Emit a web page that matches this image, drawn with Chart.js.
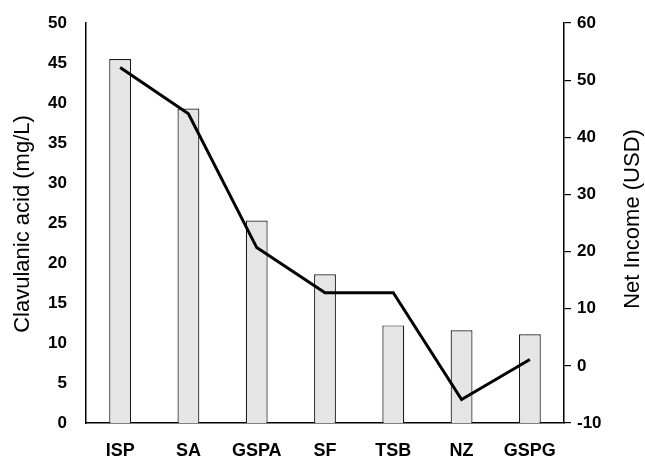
<!DOCTYPE html>
<html><head><meta charset="utf-8">
<script src="https://cdn.jsdelivr.net/npm/chart.js@4/dist/chart.umd.min.js"></script>
<style>html,body{margin:0;padding:0;background:#fff}#wrap{width:645px;height:456px;position:relative}</style>
</head><body><div id="wrap"><canvas id="c"></canvas></div>
<script>
const categories = ['ISP', 'SA', 'GSPA', 'SF', 'TSB', 'NZ', 'GSPG'];
const clavulanicAcid = [45.5, 39.3, 25.3, 18.6, 12.2, 11.6, 11.1];
const netIncome = [52.2, 44.1, 20.7, 12.8, 12.8, -5.9, 1.1];
const leftAxisRange = [0, 50, 5];
const rightAxisRange = [-10, 60, 10];
const leftTitle = 'Clavulanic acid (mg/L)';
const rightTitle = 'Net Income (USD)';

const FONT = '"Liberation Sans", Arial, sans-serif';

const titlePlugin = {
  id: 'sideTitles',
  afterDraw(chart) {
    const ctx = chart.ctx;
    const draw = (text, x, y) => {
      ctx.save();
      ctx.fillStyle = '#000';
      ctx.font = '22px ' + FONT;
      ctx.textAlign = 'center';
      ctx.textBaseline = 'middle';
      ctx.translate(x, y);
      ctx.rotate(-Math.PI / 2);
      ctx.fillText(text, 0, 0);
      ctx.restore();
    };
    draw(leftTitle, 23, 224);
    draw(rightTitle, 633, 219);
  }
};

new Chart(document.getElementById('c'), {
  data: {
    labels: categories,
    datasets: [
      {
        type: 'line',
        data: netIncome,
        yAxisID: 'y1',
        borderColor: '#000',
        borderWidth: 3,
        pointRadius: 0,
        tension: 0,
        fill: false,
        order: 0
      },
      {
        type: 'bar',
        data: clavulanicAcid,
        yAxisID: 'y',
        backgroundColor: '#e5e5e5',
        borderColor: '#1a1a1a',
        borderWidth: 1.2,
        barPercentage: 0.32,
        categoryPercentage: 1,
        order: 1
      }
    ]
  },
  options: {
    responsive: true,
    maintainAspectRatio: false,
    animation: false,
    layout: { padding: { top: 23, left: 0, right: 0, bottom: 0 } },
    plugins: { legend: { display: false }, tooltip: { enabled: false } },
    scales: {
      x: {
        grid: { display: false },
        border: { display: true, color: '#000', width: 1.5 },
        ticks: { color: '#000', font: { family: FONT, size: 18, weight: 'bold' }, padding: 9, maxRotation: 0 },
        afterFit(s) { s.height = 33; }
      },
      y: {
        position: 'left',
        min: leftAxisRange[0], max: leftAxisRange[1],
        grid: { display: false },
        border: { display: true, color: '#000', width: 1.5 },
        ticks: { stepSize: leftAxisRange[2], color: '#000', font: { family: FONT, size: 17, weight: 'bold' }, padding: 11 },
        afterFit(s) { s.width = 86; }
      },
      y1: {
        position: 'right',
        min: rightAxisRange[0], max: rightAxisRange[1],
        grid: { display: true, drawOnChartArea: false, drawTicks: true, tickLength: 7, color: '#000', lineWidth: 1.2 },
        border: { display: true, color: '#000', width: 1.5 },
        ticks: { stepSize: rightAxisRange[2], color: '#000', font: { family: FONT, size: 17, weight: 'bold' }, padding: 6 },
        afterFit(s) { s.width = 81; }
      }
    }
  },
  plugins: [titlePlugin]
});
</script>
</body></html>
